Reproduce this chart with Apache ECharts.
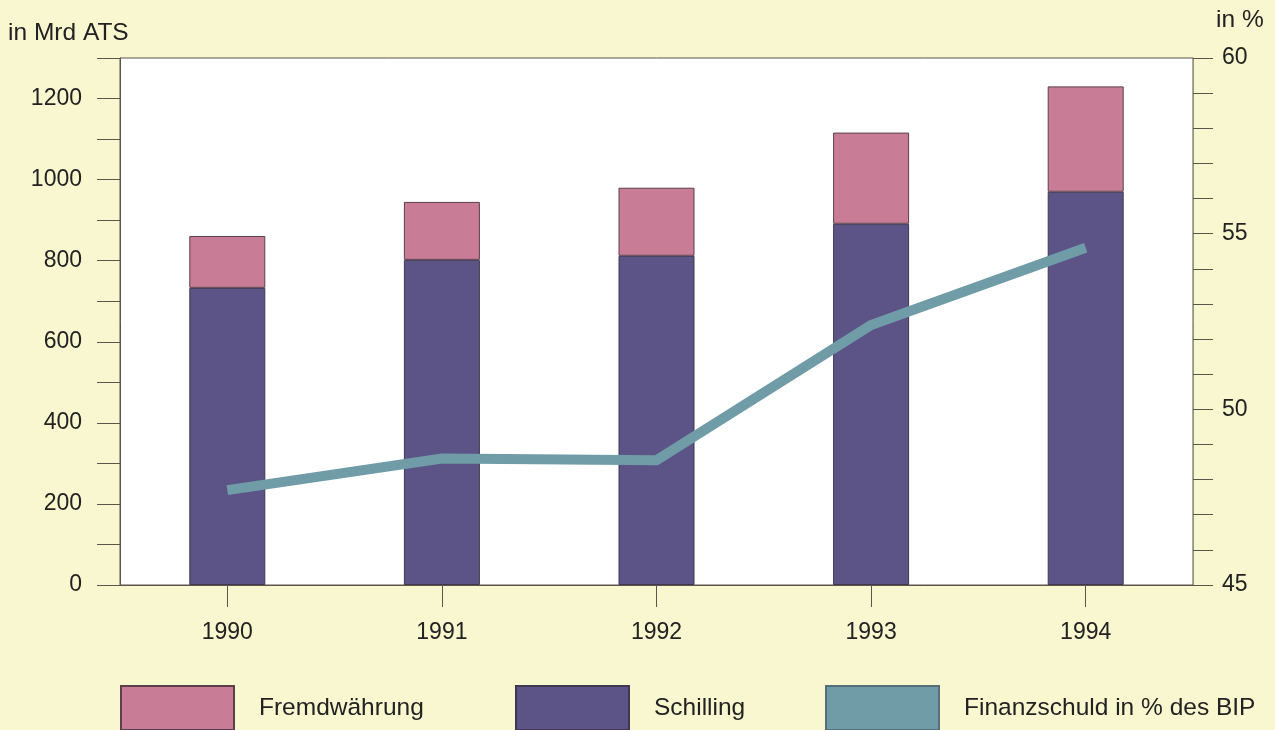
<!DOCTYPE html>
<html>
<head>
<meta charset="utf-8">
<script src="https://cdn.jsdelivr.net/npm/echarts@6/dist/echarts.min.js"></script>
<style>
  html, body { margin: 0; padding: 0; background: #f9f7cf; }
  #chart { width: 1275px; height: 730px; }
</style>
</head>
<body>
<div id="chart"></div>
<script>
// Finanzschuld des Bundes, 1990–1994
const years = ['1990', '1991', '1992', '1993', '1994'];
const schilling = [733, 802, 812, 891, 970];          // Mrd ATS
const fremdwaehrung = [128, 143, 168, 225, 260];      // Mrd ATS
const anteilBIP = [47.7, 48.6, 48.55, 52.4, 54.6];   // in % des BIP

const leftTicks = { min: 0, max: 1300, step: 100, labelStep: 200 };
const rightTicks = { min: 45, max: 60, step: 1, labelStep: 5 };

const ink = '#222222';
const axisInk = '#5b554a';
const font = 'Liberation Sans, Arial, Helvetica, sans-serif';
const fs = 23;
const fsLegend = 24.5;

const colPink = '#c97c96';
const colPurple = '#5c5487';
const colTeal = '#6f9ca6';

const chart = echarts.init(document.getElementById('chart'));

function legendFor(name, left) {
  return {
    data: [{ name: name, icon: 'rect' }],
    left: left,
    top: 685,
    itemWidth: 113,
    itemHeight: 44,
    padding: 0,
    selectedMode: false,
    textStyle: { color: ink, fontSize: fsLegend, fontFamily: font, padding: [0, 0, 0, 20] }
  };
}

chart.setOption({
  backgroundColor: '#f9f7cf',
  animation: false,
  textStyle: { fontFamily: font },
  grid: {
    left: 120, right: 82, top: 58, bottom: 145,
    show: true, backgroundColor: '#ffffff',
    borderColor: axisInk, borderWidth: 1
  },
  legend: [
    legendFor('Fremdwährung', 120),
    legendFor('Schilling', 515),
    legendFor('Finanzschuld in % des BIP', 825)
  ],
  graphic: [
    { type: 'text', left: 8, top: 21,
      style: { text: 'in Mrd ATS', fill: ink, font: fsLegend + 'px ' + font } },
    { type: 'text', left: 1216, top: 8,
      style: { text: 'in %', fill: ink, font: fsLegend + 'px ' + font } }
  ],
  xAxis: {
    type: 'category',
    data: years,
    boundaryGap: true,
    axisLine: { show: true, lineStyle: { color: axisInk, width: 1 } },
    axisTick: { show: true, alignWithLabel: true, length: 22, lineStyle: { color: axisInk } },
    axisLabel: { color: ink, fontSize: fs, fontFamily: font, margin: 36 },
    splitLine: { show: false }
  },
  yAxis: [
    {
      type: 'value',
      position: 'left',
      min: leftTicks.min, max: leftTicks.max, interval: leftTicks.step,
      axisLine: { show: true, lineStyle: { color: axisInk, width: 1 } },
      axisTick: { show: true, length: 23, lineStyle: { color: axisInk } },
      axisLabel: {
        color: ink, fontSize: fs, fontFamily: font, margin: 38,
        formatter: v => (v % leftTicks.labelStep === 0 && v < leftTicks.max) ? String(v) : ''
      },
      splitLine: { show: false }
    },
    {
      type: 'value',
      position: 'right',
      min: rightTicks.min, max: rightTicks.max, interval: rightTicks.step,
      axisLine: { show: true, lineStyle: { color: '#8d9a70', width: 1 } },
      axisTick: { show: true, length: 20, lineStyle: { color: axisInk } },
      axisLabel: {
        color: ink, fontSize: fs, fontFamily: font, margin: 29,
        formatter: v => (v % rightTicks.labelStep === 0) ? String(v) : ''
      },
      splitLine: { show: false }
    }
  ],
  series: [
    {
      name: 'Schilling',
      type: 'bar',
      stack: 'schuld',
      data: schilling,
      barWidth: 76,
      itemStyle: { color: colPurple, borderColor: '#3f3850', borderWidth: 1 }
    },
    {
      name: 'Fremdwährung',
      type: 'bar',
      stack: 'schuld',
      data: fremdwaehrung,
      barWidth: 76,
      itemStyle: { color: colPink, borderColor: '#5a3f4c', borderWidth: 1 }
    },
    {
      name: 'Finanzschuld in % des BIP',
      type: 'line',
      yAxisIndex: 1,
      data: anteilBIP,
      symbol: 'none',
      z: 5,
      lineStyle: { color: colTeal, width: 10, join: 'miter' },
      itemStyle: { color: colTeal, borderColor: '#55707a', borderWidth: 1 }
    }
  ]
});
</script>
</body>
</html>
